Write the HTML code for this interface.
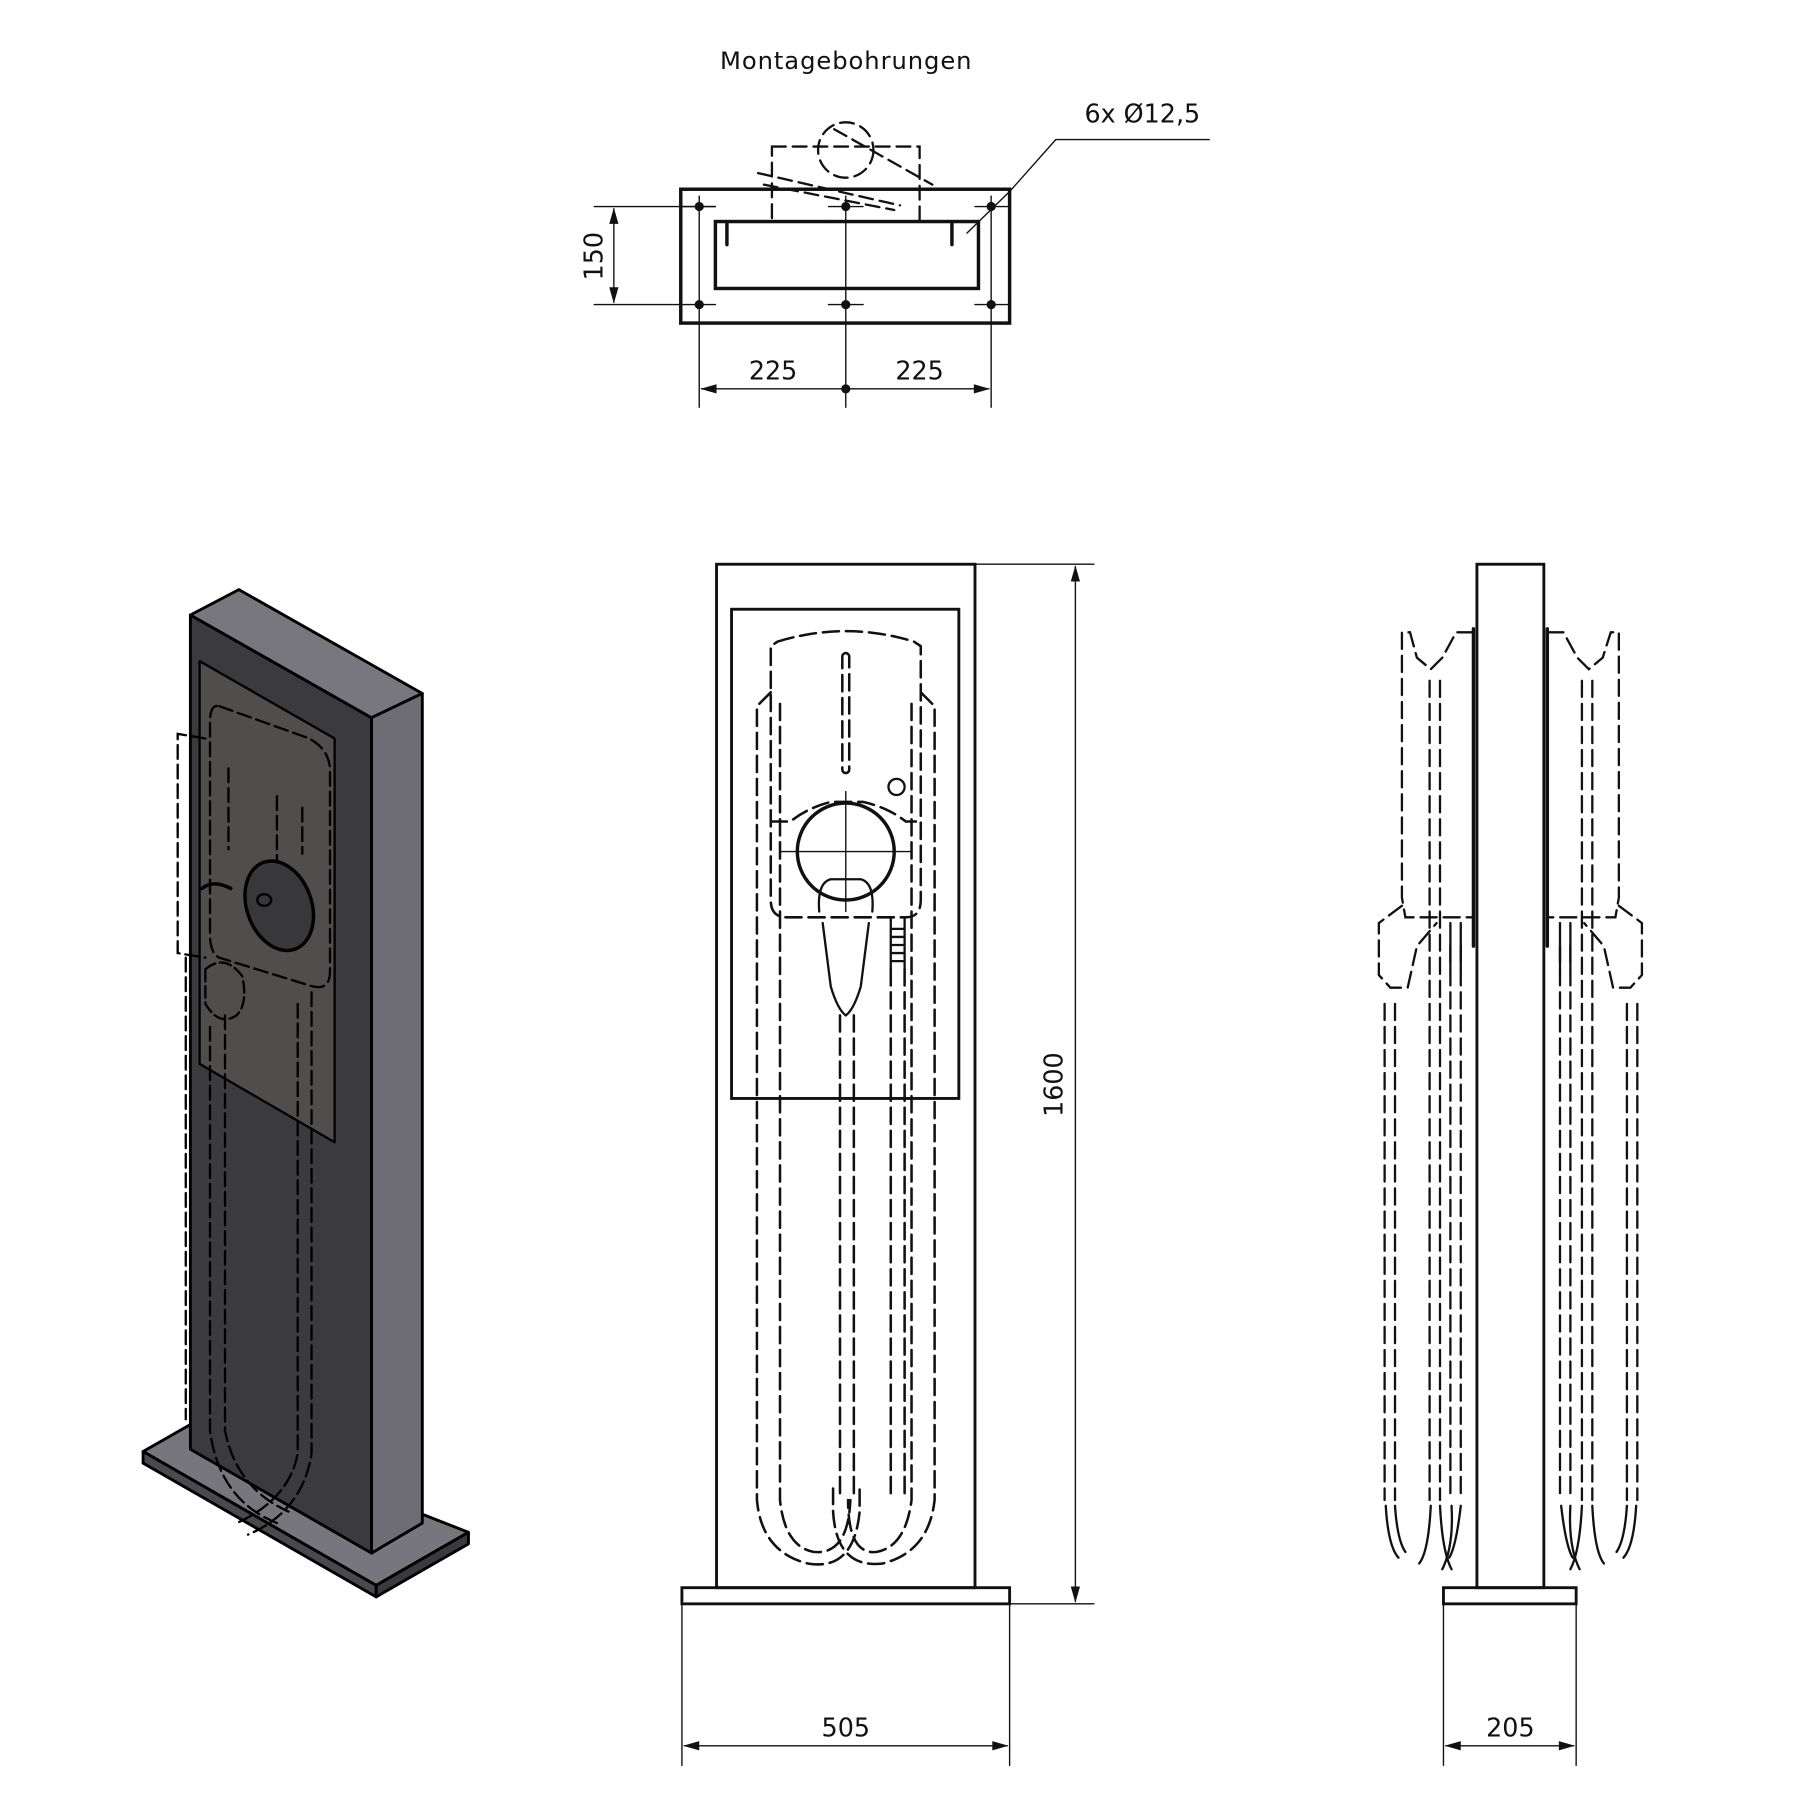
<!DOCTYPE html>
<html><head><meta charset="utf-8"><style>
html,body{margin:0;padding:0;background:#fff}
svg{display:block}
text{font-family:"DejaVu Sans","Liberation Sans",sans-serif;fill:#111}
</style></head><body>
<svg width="1800" height="1800" viewBox="0 0 1560 1560" xmlns="http://www.w3.org/2000/svg">
<g fill="none" stroke="#111" stroke-linecap="round">

<!-- TOP VIEW -->
<text x="733" y="60" font-size="21" text-anchor="middle" stroke="none" textLength="218">Montagebohrungen</text>
<text x="990" y="106" font-size="22" text-anchor="middle" stroke="none">6x Ø12,5</text>
<rect x="590" y="164" width="285" height="116" stroke-width="3"/>
<rect x="620" y="192" width="228" height="58" stroke-width="3"/>
<g stroke-width="2" stroke-dasharray="12,6">
<rect x="669" y="127" width="128" height="65"/>
<circle cx="733" cy="130" r="24"/>
<path d="M723 112 L808 160 M657 150 L780 178 M662 160 L775 182"/>
</g>
<path d="M630 194 v18 M825 194 v18" stroke-width="3"/>
<g stroke-width="1.2">
<line x1="606" y1="170" x2="606" y2="353"/><line x1="733" y1="170" x2="733" y2="353"/><line x1="859" y1="170" x2="859" y2="353"/>
<line x1="515" y1="179" x2="620" y2="179"/><line x1="515" y1="264" x2="620" y2="264"/>
<line x1="590" y1="179" x2="620" y2="179"/><line x1="718" y1="179" x2="748" y2="179"/><line x1="845" y1="179" x2="875" y2="179"/>
<line x1="718" y1="264" x2="748" y2="264"/><line x1="845" y1="264" x2="875" y2="264"/>
<line x1="532" y1="181" x2="532" y2="262"/>
<line x1="608" y1="337" x2="857" y2="337"/>
<polyline points="838,202 875,166 915,121 1048,121"/>
</g>
<g fill="#111" stroke="none">
<circle cx="606" cy="179" r="4"/><circle cx="733" cy="179" r="4"/><circle cx="859" cy="179" r="4"/>
<circle cx="606" cy="264" r="4"/><circle cx="733" cy="264" r="4"/><circle cx="859" cy="264" r="4"/>
<circle cx="733" cy="337" r="4"/>
<path d="M532 180 l-4 14 h8z M532 263 l-4 -14 h8z M607 337 l14 -4 v8z M858 337 l-14 -4 v8z"/>
</g>
<text x="0" y="0" font-size="22" text-anchor="middle" stroke="none" transform="translate(522,222) rotate(-90)">150</text>
<text x="670" y="329" font-size="22" text-anchor="middle" stroke="none">225</text>
<text x="797" y="329" font-size="22" text-anchor="middle" stroke="none">225</text>

<!-- ISO VIEW -->
<g stroke="#000" stroke-width="2.5" stroke-linejoin="round">
<polygon points="124,1258 166,1234 406,1328 326,1374" fill="#77767c"/>
<polygon points="124,1258 326,1374 326,1384 124,1268" fill="#4a4a4e"/>
<polygon points="326,1374 406,1328 406,1338 326,1384" fill="#3a3a3e"/>
<polygon points="165,533 322,622 322,1346 165,1256" fill="#3b3a3f"/>
<polygon points="165,533 207,511 366,601 322,622" fill="#78777d"/>
<polygon points="322,622 366,601 366,1320 322,1346" fill="#6e6d74"/>
<polygon points="173,573 290,640 290,990 173,922" fill="#4f4e4d" stroke-width="2"/>
</g>
<g stroke="#000" stroke-width="2" stroke-dasharray="12,5">
<path d="M190 612 L268 640 Q286 650 286 668 L286 842 Q286 860 268 854 L190 830 Q182 826 182 810 L182 626 Q182 610 190 612z"/>
<path d="M198 666 v70 M240 690 v60 M262 700 v40"/>
<path d="M178 640 L154 636 L154 826 L178 830"/>
<path d="M182 890 V1240 Q190 1300 240 1320 M195 880 V1240 Q205 1290 250 1310 M258 870 V1260 Q250 1300 205 1320 M270 860 V1260 Q262 1310 215 1330"/>
<path d="M161 830 V1230"/>
</g>
<ellipse cx="242" cy="785" rx="28" ry="40" transform="rotate(-20 242 785)" fill="#38383b" stroke="#000" stroke-width="3"/>
<ellipse cx="229" cy="780" rx="6" ry="5" stroke="#000" stroke-width="2"/>
<path d="M175 770 Q185 762 200 770" stroke="#000" stroke-width="3"/>
<path d="M178 840 Q195 826 210 846 Q215 870 205 880 Q190 890 178 870z" stroke="#000" stroke-width="2" stroke-dasharray="10,4"/>

<!-- FRONT VIEW -->
<rect x="621" y="489" width="224" height="887" stroke-width="2.5"/>
<rect x="634" y="528" width="197" height="424" stroke-width="2.5"/>
<rect x="591" y="1376" width="284" height="14" stroke-width="2.5"/>
<g stroke-width="2.2" stroke-dasharray="14,6">
<path d="M674 556 Q733 538 792 556 L798 560 V780 Q798 795 785 795 H682 Q668 795 668 780 V560z"/>
<rect x="730" y="566" width="6" height="104" rx="3"/>
<path d="M668 712 H685 Q700 700 720 695 H748 Q770 700 785 712 H798"/>
<path d="M668 600 L656 612 V1300 Q660 1345 700 1355 Q740 1362 745 1310 V1290"/>
<path d="M676 610 V1300 Q680 1340 705 1345 Q735 1348 737 1300"/>
<path d="M798 600 L810 612 V1300 Q805 1345 765 1355 Q725 1360 722 1310 V1290"/>
<path d="M790 610 V1300 Q785 1340 760 1345 Q735 1348 735 1300"/>
<path d="M728 880 V1300 M740 880 V1300 M772 840 V1300 M784 840 V1300"/>
</g>
<circle cx="733" cy="738" r="42" stroke-width="3"/>
<circle cx="777" cy="682" r="7" stroke-width="2"/>
<g stroke-width="1.2"><line x1="733" y1="686" x2="733" y2="790"/><line x1="677" y1="738" x2="790" y2="738"/></g>
<path d="M710 790 Q708 765 720 762 H746 Q758 765 756 790 M713 800 L720 855 Q726 875 733 880 Q740 875 746 855 L753 800" stroke-width="2"/>
<path d="M772 795 V840 M784 795 V840" stroke-width="2"/>
<path d="M773 805 h10 M773 812 h10 M773 819 h10 M773 826 h10 M773 833 h10" stroke-width="2"/>
<g stroke-width="1.2">
<line x1="845" y1="489" x2="948" y2="489"/><line x1="875" y1="1390" x2="948" y2="1390"/>
<line x1="932" y1="491" x2="932" y2="1388"/>
<line x1="591" y1="1390" x2="591" y2="1530"/><line x1="875" y1="1390" x2="875" y2="1530"/>
<line x1="593" y1="1513" x2="873" y2="1513"/>
</g>
<g fill="#111" stroke="none">
<path d="M932 490 l-4 14 h8z M932 1389 l-4 -14 h8z M592 1513 l14 -4 v8z M874 1513 l-14 -4 v8z"/>
</g>
<text x="0" y="0" font-size="22" text-anchor="middle" stroke="none" transform="translate(921,940) rotate(-90)">1600</text>
<text x="733" y="1505" font-size="22" text-anchor="middle" stroke="none">505</text>

<!-- SIDE VIEW -->
<rect x="1280" y="489" width="58" height="887" stroke-width="2.5"/>
<rect x="1251" y="1376" width="115" height="14" stroke-width="2.5"/>
<path d="M1277 545 V820 M1341 545 V820" stroke-width="3"/>
<g stroke-width="2" stroke-dasharray="14,6">
<path d="M1277 548 H1262 L1250 570 L1240 580 L1228 570 L1222 548 H1215 V778 L1218 795 H1277"/>
<path d="M1341 548 H1355 L1367 570 L1377 580 L1389 570 L1396 548 H1403 V778 L1400 795 H1341"/>
<path d="M1215 785 L1195 800 V845 L1205 856 H1220 L1228 820 L1245 800"/>
<path d="M1403 785 L1423 800 V845 L1413 856 H1398 L1390 820 L1373 800"/>
<path d="M1200 870 V1300 M1209 870 V1300 M1239 590 V1300 M1248 590 V1300 M1257 820 V1300 M1266 820 V1300"/>
<path d="M1361 820 V1300 M1352 820 V1300 M1380 590 V1300 M1371 590 V1300 M1410 870 V1300 M1419 870 V1300"/>
</g>
<g stroke-width="2">
<path d="M1201 1305 Q1203 1340 1212 1350 M1209 1305 Q1211 1335 1218 1345 M1240 1305 Q1238 1345 1230 1355 M1248 1305 Q1250 1345 1258 1360 M1258 1305 Q1260 1340 1250 1360 M1266 1305 Q1262 1340 1256 1350"/>
<path d="M1418 1305 Q1416 1340 1407 1350 M1410 1305 Q1408 1335 1401 1345 M1380 1305 Q1382 1345 1390 1355 M1371 1305 Q1369 1345 1361 1360 M1361 1305 Q1359 1340 1369 1360 M1353 1305 Q1357 1340 1363 1350"/>
<path d="M1257 800 v40 M1266 800 v40 M1352 800 v40 M1361 800 v40"/>
</g>
<g stroke-width="1.2">
<line x1="1251" y1="1390" x2="1251" y2="1530"/><line x1="1366" y1="1390" x2="1366" y2="1530"/>
<line x1="1253" y1="1513" x2="1364" y2="1513"/>
</g>
<path d="M1252 1513 l14 -4 v8z M1365 1513 l-14 -4 v8z" fill="#111" stroke="none"/>
<text x="1309" y="1505" font-size="22" text-anchor="middle" stroke="none">205</text>
</g>
</svg>
</body></html>
